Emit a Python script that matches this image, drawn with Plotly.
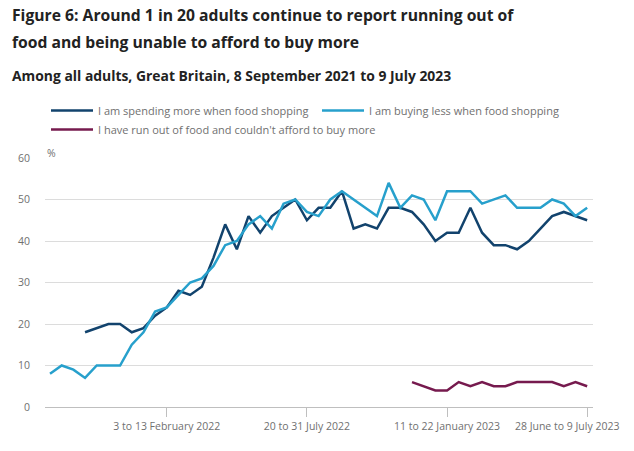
import plotly.graph_objects as go

# ---- data ----
wave_index = list(range(47))
tick_positions = [10, 22, 34]
tick_labels = ["3 to 13 February 2022", "20 to 31 July 2022", "11 to 22 January 2023"]
last_tick_position = [46]
last_tick_label = ["28 June to 9 July 2023"]

spending_more = [None, None, None, 18, 19, 20, 20, 18, 19, 22, 24, 28, 27, 29, 36, 44,
                 38, 46, 42, 46, 48, 50, 45, 48, 48, 52, 43, 44, 43, 48, 48, 47,
                 44, 40, 42, 42, 48, 42, 39, 39, 38, 40, 43, 46, 47, 46, 45]
buying_less = [8, 10, 9, 7, 10, 10, 10, 15, 18, 23, 24, 27, 30, 31, 34, 39,
               40, 44, 46, 43, 49, 50, 47, 46, 50, 52, 50, 48, 46, 54, 48, 51,
               50, 45, 52, 52, 52, 49, 50, 51, 48, 48, 48, 50, 49, 46, 48]
run_out = [None] * 31 + [6, 5, 4, 4, 6, 5, 6, 5, 5, 6, 6, 6, 6, 5, 6, 5]

series_names = ["I am spending more when food shopping",
                "I am buying less when food shopping",
                "I have run out of food and couldn't afford to buy more"]
series_colors = ["#12436D", "#27A0CC", "#761A4E"]

W, H = 634, 451
ML, MR, MT, MB = 45, 41, 158, 44
PW, PH = W - ML - MR, H - MT - MB


def px(p):
    return (p - ML) / PW


def py(p):
    return (H - MB - p) / PH


fig = go.Figure()
for name, vals, col in zip(series_names, [spending_more, buying_less, run_out], series_colors):
    fig.add_trace(go.Scatter(x=wave_index, y=vals, name=name, mode="lines",
                             line=dict(color=col, width=2.5), connectgaps=False))

font_family = "Open Sans"
grey = "#707070"
xrange = [-0.43, 46.5]

fig.update_layout(
    width=W, height=H,
    margin=dict(l=ML, r=MR, t=MT, b=MB, autoexpand=False),
    paper_bgcolor="white", plot_bgcolor="white",
    font=dict(family=font_family, color=grey, size=11),
    showlegend=True,
    legend=dict(orientation="h", x=px(46), y=py(96), xanchor="left", yanchor="top",
                font=dict(size=11, color=grey), itemwidth=42,
                entrywidth=214, entrywidthmode="pixels", traceorder="normal",
                bgcolor="rgba(0,0,0,0)"),
    xaxis=dict(range=xrange, tickmode="array", tickvals=tick_positions,
               ticktext=tick_labels, showgrid=False, zeroline=False,
               showline=True, linecolor="#bfbfbf", linewidth=1,
               ticks="outside", ticklen=9, tickcolor="#bfbfbf", automargin=False,
               tickfont=dict(size=10.5, color=grey)),
    xaxis2=dict(range=xrange, overlaying="x", anchor="y", side="bottom",
                tickmode="array", tickvals=last_tick_position, ticktext=last_tick_label,
                showgrid=False, zeroline=False, showline=False,
                ticks="outside", ticklen=9, tickcolor="#bfbfbf", automargin=False,
                ticklabelshift=-20, ticklabeloverflow="allow",
                tickfont=dict(size=10.5, color=grey)),
    yaxis=dict(range=[0, 60], tickvals=[0, 10, 20, 30, 40, 50, 60],
               showgrid=True, gridcolor="#dcdcdc", gridwidth=1, zeroline=False,
               showline=False, ticks="", ticklabelstandoff=14, automargin=False,
               tickfont=dict(size=10.5, color=grey)),
)
# invisible helper trace so the second x axis is drawn
fig.add_trace(go.Scatter(x=[None], y=[None], xaxis="x2", showlegend=False,
                         hoverinfo="skip"))

annos = [
    dict(text="<b>Figure 6: Around 1 in 20 adults continue to report running out of</b>",
         y=py(15), size=15.7, color="#222222"),
    dict(text="<b>food and being unable to afford to buy more</b>",
         y=py(42), size=15.7, color="#222222"),
    dict(text="<b>Among all adults, Great Britain, 8 September 2021 to 9 July 2023</b>",
         y=py(76), size=13.9, color="#222222"),
]
for a in annos:
    fig.add_annotation(text=a["text"], x=px(10), y=a["y"], xref="paper", yref="paper",
                       xanchor="left", yanchor="middle", showarrow=False,
                       font=dict(family=font_family, size=a["size"], color=a["color"]))
fig.add_annotation(text="%", x=0, y=py(153), xref="paper", yref="paper",
                   xanchor="left", yanchor="middle", showarrow=False,
                   font=dict(family=font_family, size=10.5, color=grey))

fig.write_html("out.html", config={"displayModeBar": False},
               post_script="document.body.style.margin='0px';")
